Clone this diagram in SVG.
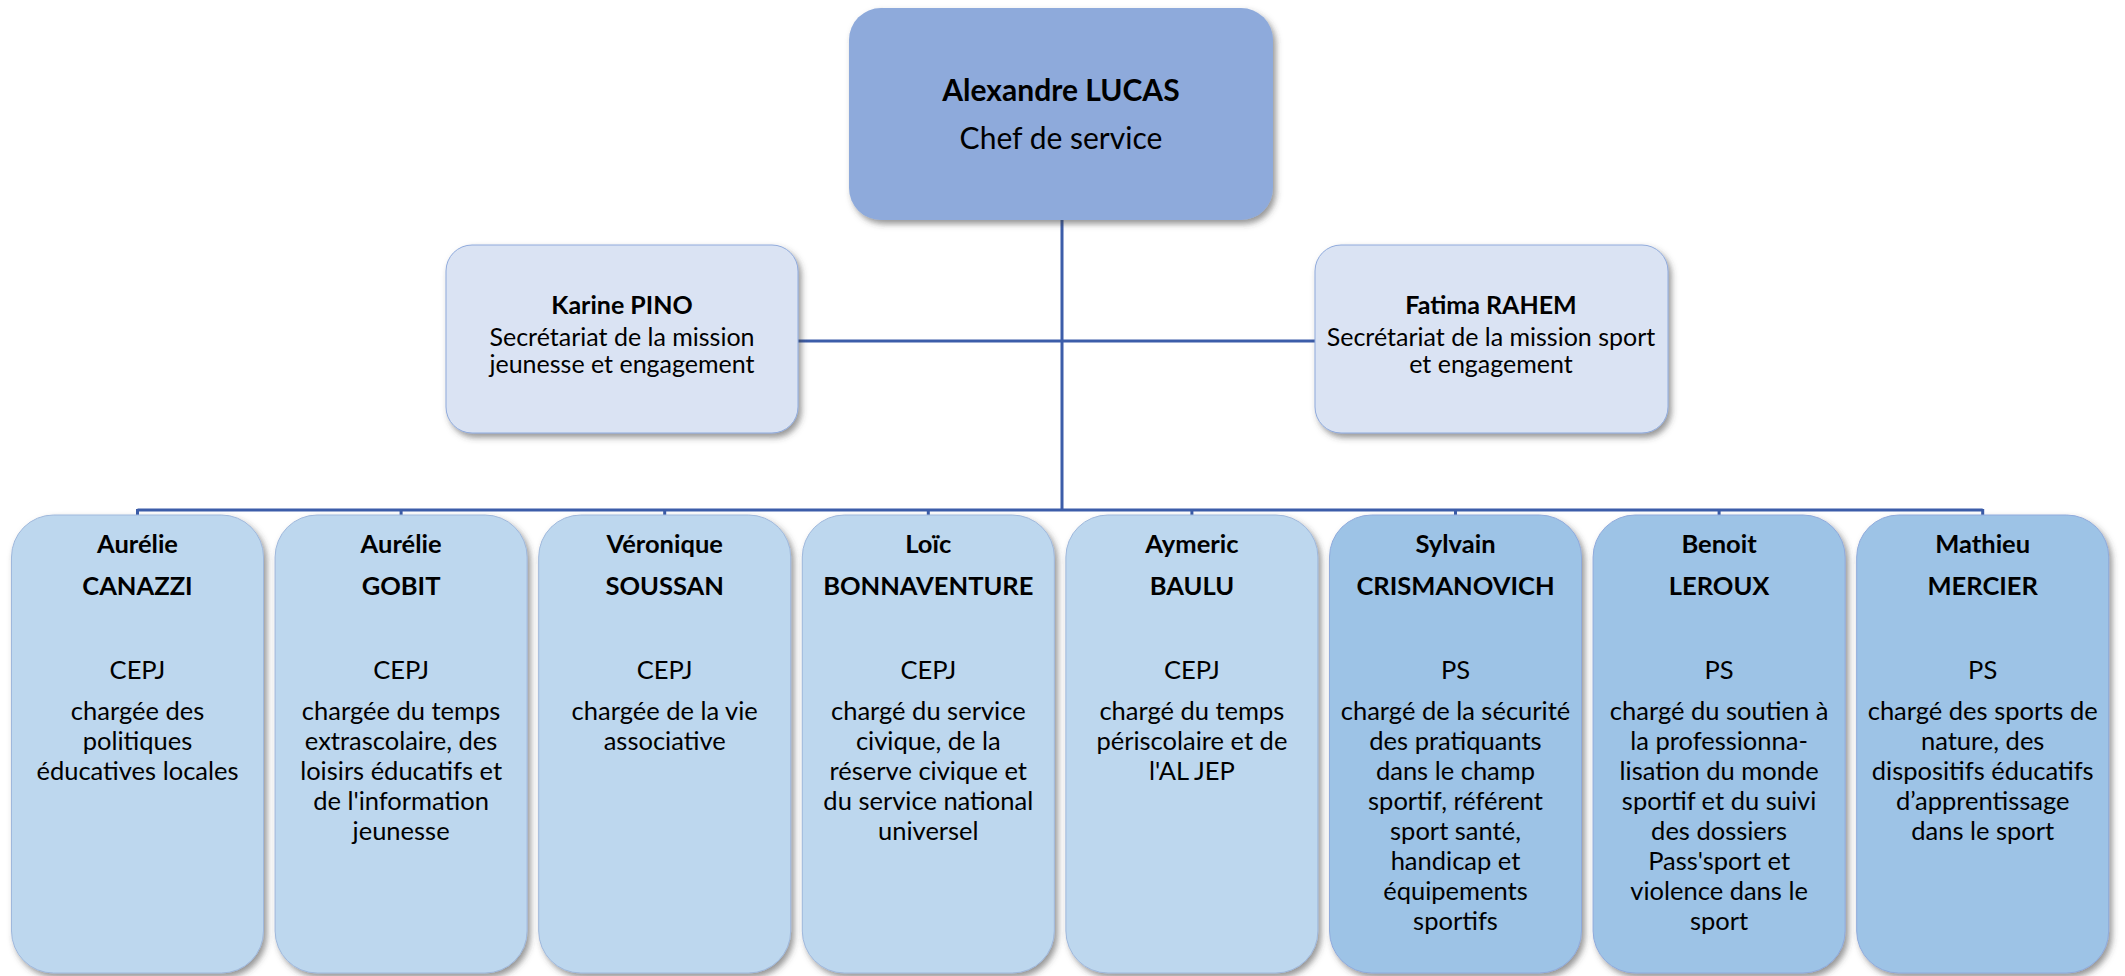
<svg xmlns="http://www.w3.org/2000/svg" width="2125" height="976" viewBox="0 0 2125 976">
<defs>
<filter id="sh" x="-10%" y="-10%" width="125%" height="125%">
<feDropShadow dx="3" dy="4" stdDeviation="3" flood-color="#404040" flood-opacity="0.55"/>
</filter>
<style>
text{font-family:Lato,"Liberation Sans",sans-serif;fill:#000;text-anchor:middle}
.b{font-weight:bold}
.top{fill:#8eaadb;filter:url(#sh)}
.sec{fill:#dae3f3;stroke:#8faadc;stroke-width:1;filter:url(#sh)}
.cepj{fill:#bdd7ee;stroke:#9fb8dc;stroke-width:1;filter:url(#sh)}
.ps{fill:#9dc3e6;stroke:#8faadc;stroke-width:1;filter:url(#sh)}
.t1{font-size:30px}
.t2{font-size:25px}
.t3{font-size:25.5px}
.c{fill:none;stroke:#3c5da9;stroke-width:3}
</style>
</defs>
<rect width="2125" height="976" fill="#fff"/>
<g id="connectors">
<path class="c" d="M1062 220V510"/>
<path class="c" d="M798 341H1315"/>
<path class="c" d="M137.5 510H1982.7"/>
<path class="c" d="M137.5 509V516M401.1 509V516M664.7 509V516M928.3 509V516M1191.9 509V516M1455.5 509V516M1719.1 509V516M1982.7 509V516"/>
</g>
<g id="n-lucas">
<rect class="top" x="849" y="8" width="424" height="212" rx="32"/>
<text class="t1 b" x="1061" y="101">Alexandre LUCAS</text>
<text class="t1" x="1061" y="149">Chef de service</text>
</g>
<g id="n-pino">
<rect class="sec" x="446" y="245" width="352" height="188" rx="26"/>
<text class="t2 b" x="622" y="314">Karine PINO</text>
<text class="t2" x="622" y="346">Secrétariat de la mission</text>
<text class="t2" x="622" y="373">jeunesse et engagement</text>
</g>
<g id="n-rahem">
<rect class="sec" x="1315" y="245" width="353" height="188" rx="26"/>
<text class="t2 b" x="1491" y="314">Fatima RAHEM</text>
<text class="t2" x="1491" y="346">Secrétariat de la mission sport</text>
<text class="t2" x="1491" y="373">et engagement</text>
</g>
<g id="n-canazzi">
<rect class="cepj" x="11.5" y="515" width="252" height="458" rx="42"/>
<text class="t3 b" x="137.5" y="553">Aurélie</text>
<text class="t3 b" x="137.5" y="595">CANAZZI</text>
<text class="t3" x="137.5" y="679">CEPJ</text>
<text class="t3" x="137.5" y="720">chargée des</text>
<text class="t3" x="137.5" y="750">politiques</text>
<text class="t3" x="137.5" y="780">éducatives locales</text>
</g>
<g id="n-gobit">
<rect class="cepj" x="275.1" y="515" width="252" height="458" rx="42"/>
<text class="t3 b" x="401.1" y="553">Aurélie</text>
<text class="t3 b" x="401.1" y="595">GOBIT</text>
<text class="t3" x="401.1" y="679">CEPJ</text>
<text class="t3" x="401.1" y="720">chargée du temps</text>
<text class="t3" x="401.1" y="750">extrascolaire, des</text>
<text class="t3" x="401.1" y="780">loisirs éducatifs et</text>
<text class="t3" x="401.1" y="810">de l'information</text>
<text class="t3" x="401.1" y="840">jeunesse</text>
</g>
<g id="n-soussan">
<rect class="cepj" x="538.7" y="515" width="252" height="458" rx="42"/>
<text class="t3 b" x="664.7" y="553">Véronique</text>
<text class="t3 b" x="664.7" y="595">SOUSSAN</text>
<text class="t3" x="664.7" y="679">CEPJ</text>
<text class="t3" x="664.7" y="720">chargée de la vie</text>
<text class="t3" x="664.7" y="750">associative</text>
</g>
<g id="n-bonnaventure">
<rect class="cepj" x="802.3" y="515" width="252" height="458" rx="42"/>
<text class="t3 b" x="928.3" y="553">Loïc</text>
<text class="t3 b" x="928.3" y="595">BONNAVENTURE</text>
<text class="t3" x="928.3" y="679">CEPJ</text>
<text class="t3" x="928.3" y="720">chargé du service</text>
<text class="t3" x="928.3" y="750">civique, de la</text>
<text class="t3" x="928.3" y="780">réserve civique et</text>
<text class="t3" x="928.3" y="810">du service national</text>
<text class="t3" x="928.3" y="840">universel</text>
</g>
<g id="n-baulu">
<rect class="cepj" x="1065.9" y="515" width="252" height="458" rx="42"/>
<text class="t3 b" x="1191.9" y="553">Aymeric</text>
<text class="t3 b" x="1191.9" y="595">BAULU</text>
<text class="t3" x="1191.9" y="679">CEPJ</text>
<text class="t3" x="1191.9" y="720">chargé du temps</text>
<text class="t3" x="1191.9" y="750">périscolaire et de</text>
<text class="t3" x="1191.9" y="780">l'AL JEP</text>
</g>
<g id="n-crismanovich">
<rect class="ps" x="1329.5" y="515" width="252" height="458" rx="42"/>
<text class="t3 b" x="1455.5" y="553">Sylvain</text>
<text class="t3 b" x="1455.5" y="595">CRISMANOVICH</text>
<text class="t3" x="1455.5" y="679">PS</text>
<text class="t3" x="1455.5" y="720">chargé de la sécurité</text>
<text class="t3" x="1455.5" y="750">des pratiquants</text>
<text class="t3" x="1455.5" y="780">dans le champ</text>
<text class="t3" x="1455.5" y="810">sportif, référent</text>
<text class="t3" x="1455.5" y="840">sport santé,</text>
<text class="t3" x="1455.5" y="870">handicap et</text>
<text class="t3" x="1455.5" y="900">équipements</text>
<text class="t3" x="1455.5" y="930">sportifs</text>
</g>
<g id="n-leroux">
<rect class="ps" x="1593.1" y="515" width="252" height="458" rx="42"/>
<text class="t3 b" x="1719.1" y="553">Benoit</text>
<text class="t3 b" x="1719.1" y="595">LEROUX</text>
<text class="t3" x="1719.1" y="679">PS</text>
<text class="t3" x="1719.1" y="720">chargé du soutien à</text>
<text class="t3" x="1719.1" y="750">la professionna-</text>
<text class="t3" x="1719.1" y="780">lisation du monde</text>
<text class="t3" x="1719.1" y="810">sportif et du suivi</text>
<text class="t3" x="1719.1" y="840">des dossiers</text>
<text class="t3" x="1719.1" y="870">Pass'sport et</text>
<text class="t3" x="1719.1" y="900">violence dans le</text>
<text class="t3" x="1719.1" y="930">sport</text>
</g>
<g id="n-mercier">
<rect class="ps" x="1856.7" y="515" width="252" height="458" rx="42"/>
<text class="t3 b" x="1982.7" y="553">Mathieu</text>
<text class="t3 b" x="1982.7" y="595">MERCIER</text>
<text class="t3" x="1982.7" y="679">PS</text>
<text class="t3" x="1982.7" y="720">chargé des sports de</text>
<text class="t3" x="1982.7" y="750">nature, des</text>
<text class="t3" x="1982.7" y="780">dispositifs éducatifs</text>
<text class="t3" x="1982.7" y="810">d’apprentissage</text>
<text class="t3" x="1982.7" y="840">dans le sport</text>
</g>
</svg>
